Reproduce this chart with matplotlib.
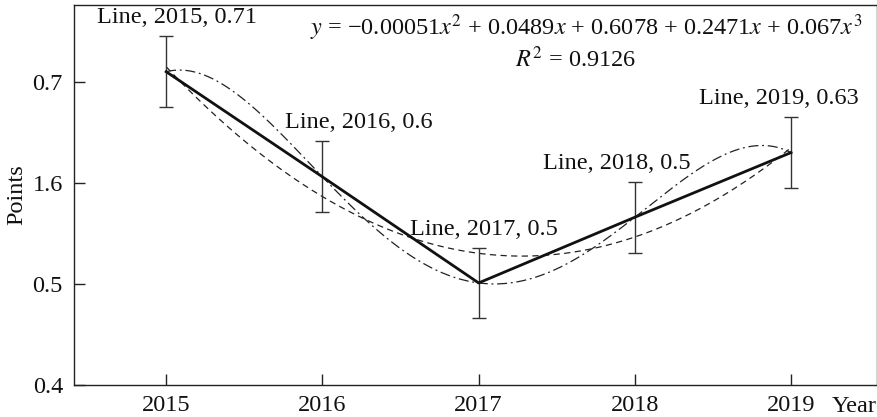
import numpy as np
import matplotlib
matplotlib.use("Agg")
import matplotlib.pyplot as plt

# Data
years = [2015, 2016, 2017, 2018, 2019]
points = [0.710, 0.606, 0.501, 0.566, 0.630]
errors = [0.035, 0.035, 0.035, 0.035, 0.035]
label_values = ["0.71", "0.6", "0.5", "0.5", "0.63"]
ytick_vals = [0.4, 0.5, 0.6, 0.7]
ytick_labels = ["0.4", "0.5", "1.6", "0.7"]

plt.rcParams["font.family"] = ["Liberation Serif", "DejaVu Serif"]
plt.rcParams["mathtext.fontset"] = "stix"
plt.rcParams["font.size"] = 17.5

fig = plt.figure(figsize=(8.78, 4.17), dpi=100)
ax = fig.add_axes([74 / 878, 32 / 417, 803 / 878, 380 / 417])

x = np.array(years, dtype=float)
y = np.array(points)
xs = np.linspace(x[0], x[-1], 300)

# trend curves fitted to the points
quad = np.polyfit(x - 2017, y, 2)
quart = np.polyfit(x - 2017, y, 4)
ax.plot(xs, np.polyval(quad, xs - 2017), color="#222222", lw=0.9,
        dashes=(5, 3.5), zorder=2)
ax.plot(xs, np.polyval(quart, xs - 2017), color="#222222", lw=0.9,
        dashes=(8, 3, 1.5, 3), zorder=2)

ax.errorbar(x, y, yerr=errors, fmt="none", ecolor="#333333", elinewidth=1.0,
            capsize=5, capthick=1.0, zorder=3)
ax.plot(x, y, color="#111111", lw=2.0, zorder=4)

# point labels
offsets = [(11, 8), (36, 8), (5, 8), (-18, 8), (-12, 8)]
for xi, yi, e, v, (dx, dy) in zip(years, points, errors, label_values, offsets):
    ax.annotate(f"Line, {xi}, {v}", (xi, yi + e), xytext=(dx, dy),
                textcoords="offset pixels", ha="center", va="bottom",
                color="#111111")

ax.text(0.982, 0.94,
        r"$y$ = −0.00051$x^2$ + 0.0489$x$ + 0.6078 + 0.2471$x$ + 0.067$x^3$",
        transform=ax.transAxes, ha="right", va="center", color="#111111")
ax.text(0.625, 0.858, r"$R^2$ = 0.9126", transform=ax.transAxes,
        ha="center", va="center", color="#111111")

ax.set_xlim(2014.41, 2019.55)
ax.set_ylim(0.4, 0.776)
ax.set_xticks(years)
ax.set_yticks(ytick_vals)
ax.set_yticklabels(ytick_labels)
ax.tick_params(direction="in", length=8, width=1, colors="#222222",
               labelcolor="#111111")
ax.tick_params(axis="x", pad=7)
ax.tick_params(axis="y", pad=8)
for s in ax.spines.values():
    s.set_color("#222222")
    s.set_linewidth(1.0)

ax.set_ylabel("Points", color="#111111", labelpad=4)
ax.text(0.999, -0.03, "Year", transform=ax.transAxes, ha="right", va="top",
        color="#111111")

fig.savefig("out.png", dpi=100)
